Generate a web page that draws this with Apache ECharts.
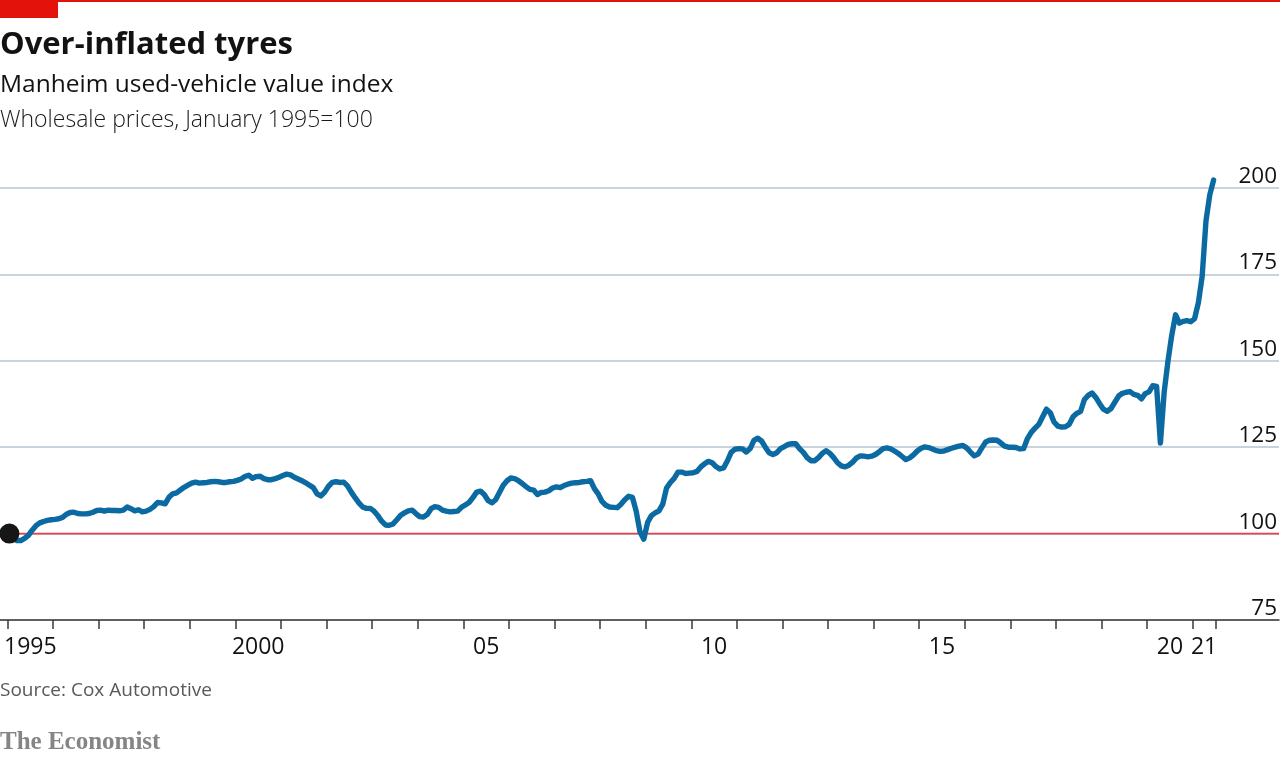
<!DOCTYPE html>
<html>
<head>
<meta charset="utf-8">
<script src="https://cdn.jsdelivr.net/npm/echarts@6/dist/echarts.min.js"></script>
<style>
html,body{margin:0;padding:0;background:#fff;}
#chart{width:1280px;height:757px;}
</style>
</head>
<body>
<div id="chart"></div>
<script>
// Manheim used-vehicle value index, monthly, Jan 1995 = 100
const startYear = 1995;
const indexValues = [
  100, 98.5, 98.0, 98.0, 98.6, 99.5, 101.0, 102.3, 103.1, 103.5, 103.8, 104.0,
  104.1, 104.3, 104.7, 105.6, 106.1, 106.2, 105.8, 105.7, 105.7, 105.8, 106.2, 106.7,
  106.8, 106.5, 106.8, 106.7, 106.7, 106.6, 106.8, 107.7, 107.2, 106.6, 106.9, 106.3,
  106.5, 107.0, 107.8, 109.0, 108.9, 108.6, 110.5, 111.5, 111.8, 112.6, 113.4, 114.0,
  114.6, 114.9, 114.6, 114.7, 114.8, 115.0, 115.1, 115.0, 114.8, 114.8, 115.0, 115.1,
  115.4, 115.8, 116.5, 116.9, 116.0, 116.5, 116.6, 115.9, 115.6, 115.6, 115.9, 116.3,
  116.8, 117.2, 117.0, 116.3, 115.8, 115.3, 114.7, 114.0, 113.3, 111.5, 110.9, 112.0,
  113.7, 114.8, 115.0, 114.8, 114.9, 113.8, 112.0, 110.4, 108.9, 107.7, 107.3, 107.3,
  106.5, 105.2, 103.6, 102.5, 102.4, 102.8, 104.0, 105.3, 106.0, 106.6, 106.8, 105.8,
  104.9, 104.8, 105.5, 107.2, 107.8, 107.6, 106.8, 106.5, 106.3, 106.4, 106.5, 107.6,
  108.3, 109.0, 110.4, 112.0, 112.3, 111.3, 109.6, 108.9, 109.8, 111.9, 114.0, 115.3,
  116.1, 115.9, 115.3, 114.5, 113.6, 112.8, 112.6, 111.3, 111.9, 112.0, 112.4, 113.2,
  113.5, 113.3, 113.9, 114.3, 114.6, 114.7, 114.8, 115.0, 115.1, 115.3, 113.0, 111.5,
  109.3, 108.2, 107.7, 107.6, 107.5, 108.5, 109.8, 110.8, 110.5, 106.5, 100.5, 98.4,
  103.2, 105.2, 106.0, 106.6, 108.5, 113.2, 114.8, 116.0, 117.8, 117.8, 117.4, 117.5,
  117.6, 118.0, 119.3, 120.2, 120.9, 120.5, 119.4, 118.7, 119.0, 121.0, 123.5, 124.4,
  124.6, 124.5, 123.6, 124.6, 127.0, 127.6, 126.8, 125.0, 123.4, 122.9, 123.4, 124.6,
  125.2, 125.8, 126.0, 126.0, 124.6, 123.5, 122.0, 121.1, 121.1, 122.0, 123.2, 124.0,
  123.2, 122.0, 120.5, 119.6, 119.3, 119.8, 120.7, 121.9, 122.5, 122.4, 122.2, 122.4,
  122.9, 123.7, 124.6, 124.8, 124.5, 123.9, 123.2, 122.3, 121.4, 121.9, 122.8, 123.9,
  124.7, 125.1, 124.9, 124.5, 124.0, 123.8, 123.9, 124.3, 124.7, 125.0, 125.3, 125.5,
  124.8, 123.6, 122.5, 123.0, 124.8, 126.5, 127.0, 127.1, 127.0, 126.2, 125.3, 125.0,
  125.0, 124.9, 124.5, 124.6, 127.5, 129.3, 130.5, 131.6, 133.8, 136.0, 135.0, 132.3,
  131.1, 130.8, 130.9, 131.6, 133.8, 134.8, 135.4, 138.8, 140.0, 140.7, 139.4, 137.6,
  136.0, 135.4, 136.2, 138.0, 139.8, 140.6, 140.9, 141.1, 140.3, 140.0, 139.0, 140.5,
  141.0, 142.8, 142.6, 126.2, 141.0, 150.0, 157.5, 163.3, 160.9, 161.4, 161.6, 161.3,
  162.2, 166.8, 174.5, 190.5, 198.0, 202.3
];
const baseValue = 100;
const yTicks = [75, 100, 125, 150, 175, 200];
const xTickYears = [];
for (let y = 1995; y <= 2021; y++) xTickYears.push(y);
const xLabelYears = [1995, 2000, 2005, 2010, 2015, 2020, 2021];
const xLabelText  = ['1995', '2000', '05', '10', '15', '20', '21'];

// Data points at mid-month
const seriesData = indexValues.map((v, i) => [startYear + (i + 0.5) / 12, v]);
const lastX = startYear + indexValues.length / 12;         // end of data period
const tickValues = xTickYears.concat([lastX]);
const labelPos = xLabelYears.map(y => (y + Math.min(y + 1, lastX)) / 2);
const labelMap = {};
labelPos.forEach((p, k) => { labelMap[p.toFixed(4)] = xLabelText[k]; });

const xMin = 1995 - 7.5 / 45.62;
const xMax = xMin + 1280 / 45.62;

const FONT = '"Open Sans", Roboto, sans-serif';
const chart = echarts.init(document.getElementById('chart'), null, {renderer: 'canvas'});
chart.setOption({
  animation: false,
  backgroundColor: '#ffffff',
  grid: {left: 0, right: 0, top: 188, bottom: 137, containLabel: false},
  graphic: [
    {type: 'rect', shape: {x: 0, y: 0, width: 1280, height: 2}, style: {fill: '#e3120b'}},
    {type: 'rect', shape: {x: 0, y: 0, width: 58, height: 18}, style: {fill: '#e3120b'}},
    {type: 'text', left: 0, top: 30, style: {text: 'Over-inflated tyres', font: 'bold 31px ' + FONT, fill: '#121212'}},
    {type: 'text', left: 0, top: 73, style: {text: 'Manheim used-vehicle value index', font: '24.5px ' + FONT, fill: '#121212'}},
    {type: 'text', left: 0, top: 109, style: {text: 'Wholesale prices, January 1995=100', font: '300 23px ' + FONT, fill: '#1a1a1a'}},
    {type: 'text', left: 0, top: 681, style: {text: 'Source: Cox Automotive', font: '19px ' + FONT, fill: '#595959'}},
    {type: 'text', left: 0, top: 730, style: {text: 'The Economist', font: 'bold 25px "Liberation Serif", "DejaVu Serif", serif', fill: '#858585'}}
  ],
  xAxis: {
    type: 'value',
    min: xMin,
    max: xMax,
    splitLine: {show: false},
    axisLine: {show: true, lineStyle: {color: '#3a3a3a', width: 1.5}},
    axisTick: {show: true, customValues: tickValues, length: 9, lineStyle: {color: '#3a3a3a', width: 1.5}},
    axisLabel: {
      show: true,
      customValues: labelPos,
      formatter: v => labelMap[Number(v).toFixed(4)] || '',
      color: '#121212',
      fontFamily: FONT,
      fontSize: 23,
      margin: 16,
      verticalAlign: 'top'
    }
  },
  yAxis: {
    type: 'value',
    position: 'right',
    min: 75,
    max: 200,
    interval: 25,
    axisLine: {show: false},
    axisTick: {show: false},
    axisLabel: {
      inside: true,
      margin: 2,
      verticalAlign: 'bottom',
      color: '#121212',
      fontFamily: FONT,
      fontSize: 22.5,
      formatter: v => (yTicks.indexOf(v) >= 0 ? String(v) : '')
    },
    splitLine: {show: true, lineStyle: {color: '#b7c5d1', width: 1.5}}
  },
  series: [
    {
      name: 'base',
      type: 'line',
      z: 1,
      silent: true,
      symbol: 'none',
      data: [[xMin, baseValue], [xMax, baseValue]],
      lineStyle: {color: '#e3434a', width: 1.6}
    },
    {
      name: 'Manheim index',
      type: 'line',
      z: 3,
      clip: false,
      symbol: 'none',
      data: seriesData,
      lineStyle: {color: '#0a6aa1', width: 5.4, cap: 'round', join: 'round'}
    },
    {
      name: 'start',
      type: 'scatter',
      z: 5,
      symbolSize: 20,
      data: [seriesData[0]],
      itemStyle: {color: '#161616', opacity: 1}
    }
  ]
});
</script>
</body>
</html>
